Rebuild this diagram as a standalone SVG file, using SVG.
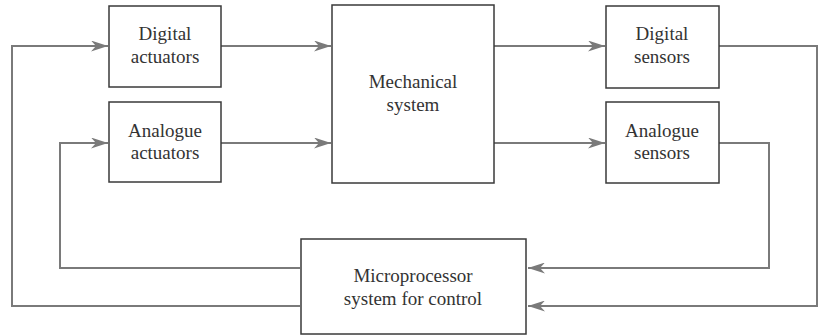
<svg xmlns="http://www.w3.org/2000/svg" width="821" height="336" viewBox="0 0 821 336">
<style>
.box{fill:#fff;stroke:#3a3a3a;stroke-width:1.5}
.lbl{font-family:"Liberation Serif","Times New Roman",serif;font-size:19px;fill:#333;text-anchor:middle}
.ln{fill:none;stroke:#7a7a7a;stroke-width:2}
</style>
<defs>
<marker id="ah" viewBox="0 0 17 11" refX="17" refY="5.5" markerWidth="17" markerHeight="11" markerUnits="userSpaceOnUse" orient="auto">
<path d="M0,0 L17,5.5 L0,11 L5,5.5 Z" fill="#7a7a7a"/>
</marker>
</defs>
<rect width="821" height="336" fill="#fff"/>
<g id="connectors">
<polyline class="ln" points="300,306 12,306 12,46 108,46" marker-end="url(#ah)"/>
<polyline class="ln" points="300,268 60,268 60,143 108,143" marker-end="url(#ah)"/>
<line class="ln" x1="221" y1="46" x2="331" y2="46" marker-end="url(#ah)"/>
<line class="ln" x1="221" y1="143" x2="331" y2="143" marker-end="url(#ah)"/>
<line class="ln" x1="494" y1="46" x2="605" y2="46" marker-end="url(#ah)"/>
<line class="ln" x1="494" y1="143" x2="605" y2="143" marker-end="url(#ah)"/>
<polyline class="ln" points="719,46 817,46 817,306 528,306" marker-end="url(#ah)"/>
<polyline class="ln" points="719,143 769,143 769,268 528,268" marker-end="url(#ah)"/>
</g>
<g id="digital-actuators">
<rect class="box" x="109" y="6" width="112" height="81"/>
<text class="lbl" x="165" y="40">Digital</text>
<text class="lbl" x="165" y="63">actuators</text>
</g>
<g id="analogue-actuators">
<rect class="box" x="109" y="102" width="112" height="80"/>
<text class="lbl" x="165" y="137">Analogue</text>
<text class="lbl" x="165" y="159">actuators</text>
</g>
<g id="mechanical-system">
<rect class="box" x="332" y="5" width="162" height="178"/>
<text class="lbl" x="413" y="88">Mechanical</text>
<text class="lbl" x="413" y="111">system</text>
</g>
<g id="digital-sensors">
<rect class="box" x="606" y="6" width="113" height="82"/>
<text class="lbl" x="662" y="40">Digital</text>
<text class="lbl" x="662" y="63">sensors</text>
</g>
<g id="analogue-sensors">
<rect class="box" x="606" y="102" width="113" height="81"/>
<text class="lbl" x="662" y="137">Analogue</text>
<text class="lbl" x="662" y="159">sensors</text>
</g>
<g id="microprocessor">
<rect class="box" x="301" y="239" width="225" height="95"/>
<text class="lbl" x="413" y="282">Microprocessor</text>
<text class="lbl" x="413" y="305">system for control</text>
</g>
</svg>
